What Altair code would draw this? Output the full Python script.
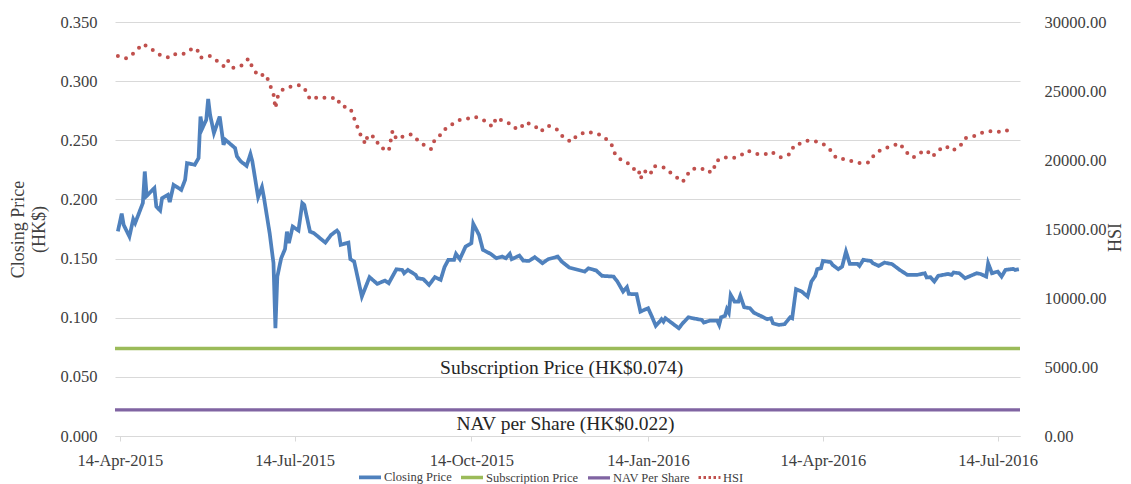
import altair as alt
import pandas as pd

FONT = "Liberation Serif"

close_dates = [
    "2015-04-13","2015-04-15","2015-04-16","2015-04-19","2015-04-21","2015-04-22","2015-04-26","2015-04-27","2015-04-28","2015-05-02",
    "2015-05-03","2015-05-05","2015-05-06","2015-05-09","2015-05-10","2015-05-12","2015-05-16","2015-05-18","2015-05-19","2015-05-23",
    "2015-05-25","2015-05-26","2015-05-27","2015-05-29","2015-05-30","2015-05-31","2015-06-02","2015-06-05","2015-06-07","2015-06-08",
    "2015-06-11","2015-06-13","2015-06-14","2015-06-16","2015-06-19","2015-06-21","2015-06-22","2015-06-25","2015-06-27","2015-06-28",
    "2015-07-01","2015-07-03","2015-07-04","2015-07-05","2015-07-07","2015-07-09","2015-07-10","2015-07-11","2015-07-13","2015-07-16",
    "2015-07-18","2015-07-19","2015-07-22","2015-07-24","2015-07-30","2015-08-02","2015-08-05","2015-08-06","2015-08-07","2015-08-11",
    "2015-08-12","2015-08-14","2015-08-18","2015-08-22","2015-08-26","2015-08-30","2015-09-01","2015-09-05","2015-09-08","2015-09-09",
    "2015-09-11","2015-09-15","2015-09-16","2015-09-19","2015-09-22","2015-09-25","2015-09-28","2015-09-30","2015-10-02","2015-10-05",
    "2015-10-06","2015-10-08","2015-10-11","2015-10-14","2015-10-15","2015-10-18","2015-10-20","2015-10-24","2015-10-27","2015-10-30",
    "2015-11-01","2015-11-03","2015-11-04","2015-11-08","2015-11-10","2015-11-13","2015-11-16","2015-11-20","2015-11-23","2015-11-28",
    "2015-11-30","2015-12-04","2015-12-12","2015-12-14","2015-12-18","2015-12-21","2015-12-27","2015-12-29","2016-01-01","2016-01-03",
    "2016-01-04","2016-01-08","2016-01-10","2016-01-14","2016-01-16","2016-01-18","2016-01-20","2016-01-21","2016-01-22","2016-01-23",
    "2016-01-30","2016-02-01","2016-02-04","2016-02-06","2016-02-11","2016-02-12","2016-02-15","2016-02-19","2016-02-20","2016-02-21",
    "2016-02-23","2016-02-24","2016-02-25","2016-02-26","2016-02-28","2016-03-01","2016-03-02","2016-03-04","2016-03-07","2016-03-09",
    "2016-03-14","2016-03-16","2016-03-18","2016-03-19","2016-03-22","2016-03-25","2016-03-28","2016-03-29","2016-03-31","2016-04-03",
    "2016-04-06","2016-04-08","2016-04-10","2016-04-11","2016-04-13","2016-04-14","2016-04-18","2016-04-19","2016-04-22","2016-04-24",
    "2016-04-26","2016-04-28","2016-05-02","2016-05-03","2016-05-05","2016-05-09","2016-05-10","2016-05-13","2016-05-16","2016-05-20",
    "2016-05-24","2016-05-28","2016-06-02","2016-06-06","2016-06-07","2016-06-09","2016-06-11","2016-06-13","2016-06-18","2016-06-20",
    "2016-06-21","2016-06-24","2016-06-27","2016-07-01","2016-07-03","2016-07-05","2016-07-08","2016-07-09","2016-07-11","2016-07-14",
    "2016-07-16","2016-07-18","2016-07-22","2016-07-23","2016-07-25",
]
close_values = [
    0.173,0.188,0.1785,0.1686,0.1833,0.180,0.197,0.2236,0.203,0.2096,
    0.194,0.1906,0.2011,0.2039,0.1977,0.2123,0.2081,0.2166,0.2307,0.2293,
    0.2349,0.2701,0.2603,0.2673,0.2849,0.2716,0.2561,0.2701,0.2462,0.2504,
    0.2462,0.2434,0.2363,0.2321,0.2284,0.2383,0.2321,0.2019,0.2104,0.2019,
    0.1715,0.1461,0.0911,0.1348,0.1503,0.158,0.1728,0.163,0.1771,0.1737,
    0.1969,0.1954,0.1728,0.1715,0.1635,0.170,0.1737,0.1715,0.1616,0.1635,
    0.1495,0.1475,0.1179,0.1343,0.1286,0.1314,0.1292,0.141,0.1404,0.1376,
    0.1404,0.1362,0.1334,0.1326,0.1277,0.1343,0.132,0.1427,0.1489,0.1489,
    0.154,0.1495,0.1602,0.163,0.1794,0.170,0.1574,0.154,0.1503,0.1517,
    0.1503,0.154,0.1495,0.1525,0.1483,0.148,0.1512,0.1461,0.1495,0.1517,
    0.1475,0.1424,0.139,0.1418,0.1399,0.1354,0.1348,0.1306,0.1221,0.1258,
    0.1201,0.1199,0.1052,0.108,0.1009,0.0931,0.0967,0.0987,0.0967,0.0996,
    0.0911,0.0953,0.1004,0.0996,0.0981,0.0959,0.0975,0.0975,0.0939,0.1004,
    0.1015,0.1072,0.1043,0.1193,0.1136,0.1136,0.1184,0.1089,0.108,0.1043,
    0.1004,0.0987,0.0996,0.0953,0.0939,0.0945,0.1004,0.0996,0.1241,0.1221,
    0.1179,0.1306,0.1354,0.141,0.1419,0.148,0.147,0.1447,0.141,0.1432,
    0.1559,0.1455,0.1455,0.1438,0.1489,0.148,0.1461,0.1438,0.1466,0.1453,
    0.1404,0.1362,0.1362,0.1376,0.134,0.1343,0.1306,0.1354,0.137,0.1362,
    0.1382,0.1376,0.1334,0.1362,0.1376,0.137,0.1348,0.1461,0.1376,0.139,
    0.1348,0.1404,0.1413,0.1404,0.141,
]

hsi_dates = [
    "2015-04-13","2015-04-17","2015-04-19","2015-04-22","2015-04-26","2015-04-30","2015-05-04","2015-05-06","2015-05-10","2015-05-13",
    "2015-05-17","2015-05-20","2015-05-24","2015-05-26","2015-05-31","2015-06-03","2015-06-07","2015-06-09","2015-06-12","2015-06-16",
    "2015-06-20","2015-06-22","2015-06-25","2015-06-29","2015-07-01","2015-07-03","2015-07-04","2015-07-05","2015-07-08","2015-07-12",
    "2015-07-17","2015-07-20","2015-07-22","2015-07-27","2015-07-31","2015-08-05","2015-08-07","2015-08-12","2015-08-14","2015-08-16",
    "2015-08-18","2015-08-20","2015-08-21","2015-08-25","2015-08-27","2015-09-01","2015-09-02","2015-09-03","2015-09-05","2015-09-09",
    "2015-09-13","2015-09-16","2015-09-20","2015-09-23","2015-09-25","2015-09-29","2015-10-01","2015-10-05","2015-10-08","2015-10-12",
    "2015-10-16","2015-10-21","2015-10-25","2015-10-27","2015-11-01","2015-11-03","2015-11-05","2015-11-08","2015-11-11","2015-11-16",
    "2015-11-19","2015-11-23","2015-11-28","2015-12-01","2015-12-05","2015-12-08","2015-12-13","2015-12-18","2015-12-22","2015-12-26",
    "2015-12-28","2015-12-31","2016-01-03","2016-01-07","2016-01-09","2016-01-10","2016-01-12","2016-01-15","2016-01-17","2016-01-22",
    "2016-01-24","2016-01-28","2016-02-01","2016-02-04","2016-02-06","2016-02-11","2016-02-13","2016-02-17","2016-02-18","2016-02-22",
    "2016-02-27","2016-03-02","2016-03-06","2016-03-11","2016-03-15","2016-03-18","2016-03-23","2016-03-28","2016-03-30","2016-04-03",
    "2016-04-06","2016-04-10","2016-04-14","2016-04-18","2016-04-21","2016-04-26","2016-04-30","2016-05-04","2016-05-08","2016-05-11",
    "2016-05-15","2016-05-20","2016-05-24","2016-05-27","2016-05-31","2016-06-03","2016-06-07","2016-06-10","2016-06-13","2016-06-17",
    "2016-06-20","2016-06-24","2016-06-27","2016-07-01","2016-07-06","2016-07-11","2016-07-14","2016-07-18","2016-07-22",
]
hsi_values = [
    27535,27367,27440,27850,28404,28093,27680,27535,27413,27680,
    27680,27970,28093,27413,27535,27245,26810,27245,26690,26810,
    27340,26714,26086,26209,25506,24781,23745,24542,25143,25310,
    25433,25021,24397,24586,24470,24513,23934,23745,23021,22296,
    21572,21158,21810,21644,20963,20651,21398,22122,21520,21738,
    21861,21448,21013,20796,21500,21934,22368,22658,22898,22995,
    23137,22847,22412,23064,22702,22658,22368,22223,22731,22485,
    22050,22485,22173,21615,21325,21789,22050,21934,21687,21108,
    20361,19999,19832,19296,19347,18622,19224,18912,19564,19470,
    19253,18840,18405,19057,19369,19398,19130,19152,19876,20195,
    20122,20311,20673,20434,20412,20601,20195,20434,21086,21209,
    21398,21354,21180,20702,20122,20050,19876,19760,19832,20434,
    20796,21013,21209,20601,20166,20485,20702,20238,20702,21013,
    20673,20919,21572,21687,21977,22100,22050,22050,22463,
]

period_dates = ["2015-04-11 12:00", "2016-07-25 14:00"]
subscription_price = [0.074, 0.074]
nav_per_share = [0.022, 0.022]

series_names = ["Closing Price", "Subscription Price", "NAV Per Share", "HSI"]
series_colors = ["#4F81BD", "#9BBB59", "#8064A2", "#C0504D"]
series_dash = [[1, 0], [1, 0], [1, 0], [2.5, 2.5]]
series_width = [3.75, 3, 3, 4]

left_ticks = [0.0, 0.05, 0.10, 0.15, 0.20, 0.25, 0.30, 0.35]
right_ticks = [0, 5000, 10000, 15000, 20000, 25000, 30000]
x_tick_dates = ["2015-04-14", "2015-07-14", "2015-10-14", "2016-01-14", "2016-04-14", "2016-07-14"]

ann_text = ["Subscription Price (HK$0.074)", "NAV per Share (HK$0.022)"]
ann_dates = ["2015-11-30", "2015-12-02"]
ann_values = [0.0575, 0.0102]


def to_dt(s):
    t = pd.Timestamp(s)
    return alt.DateTime(year=t.year, month=t.month, date=t.day, hours=t.hour, minutes=t.minute)


left_df = pd.concat([
    pd.DataFrame({"date": pd.to_datetime(close_dates), "value": close_values, "series": "Closing Price"}),
    pd.DataFrame({"date": pd.to_datetime(period_dates), "value": subscription_price, "series": "Subscription Price"}),
    pd.DataFrame({"date": pd.to_datetime(period_dates), "value": nav_per_share, "series": "NAV Per Share"}),
], ignore_index=True)
hsi_df = pd.DataFrame({"date": pd.to_datetime(hsi_dates), "hsi": hsi_values, "series": "HSI"})
ann_df = pd.DataFrame({"date": pd.to_datetime(ann_dates), "value": ann_values, "label": ann_text})

x_scale = alt.Scale(domain=[to_dt(period_dates[0]), to_dt(period_dates[1])])
x_axis = alt.Axis(
    values=[to_dt(d) for d in x_tick_dates], format="%d-%b-%Y", title=None, grid=False,
    domain=True, domainColor="#d9d9d9", ticks=True, tickSize=5, tickColor="#d9d9d9",
    labelFont=FONT, labelFontSize=16.5, labelPadding=11, labelColor="#404040",
    labelFlush=False, labelOverlap=False,
)
x_enc = alt.X("date:T", scale=x_scale, axis=x_axis)

legend = alt.Legend(
    title=None, orient="none", legendX=242, legendY=442, direction="horizontal",
    symbolType="stroke", symbolStrokeWidth=4, symbolSize=484, labelFont=FONT, labelFontSize=12.5,
    labelOffset=1, columnPadding=2, labelColor="#404040",
)
color_enc = alt.Color("series:N", scale=alt.Scale(domain=series_names, range=series_colors), legend=legend)

y_left = alt.Y(
    "value:Q", scale=alt.Scale(domain=[0, 0.35], nice=False),
    axis=alt.Axis(values=left_ticks, format=".3f", title=["Closing Price", "(HK$)"], grid=True,
                  gridColor="#d9d9d9", domain=False, ticks=False, labelPadding=18,
                  labelFont=FONT, labelFontSize=16.5, labelColor="#404040",
                  titleFont=FONT, titleFontSize=18, titleFontWeight="normal",
                  titleColor="#404040", titlePadding=11, titleLineHeight=21.5),
)

lines = alt.Chart(left_df).mark_line(strokeCap="butt").encode(
    x=x_enc,
    y=y_left,
    color=color_enc,
    strokeDash=alt.StrokeDash("series:N", scale=alt.Scale(domain=series_names, range=series_dash), legend=legend),
    strokeWidth=alt.StrokeWidth("series:N", scale=alt.Scale(domain=series_names, range=series_width), legend=None),
)

texts = alt.Chart(ann_df).mark_text(font=FONT, fontSize=19.5, color="#262626", align="center", baseline="middle").encode(
    x=alt.X("date:T"), y=alt.Y("value:Q"), text="label:N"
)

hsi = alt.Chart(hsi_df).mark_line(strokeDash=[0, 8.5], strokeCap="round", strokeWidth=4).encode(
    x=alt.X("date:T"),
    y=alt.Y("hsi:Q", scale=alt.Scale(domain=[0, 30000], nice=False),
            axis=alt.Axis(orient="right", values=right_ticks, format=".2f", title="HSI", titleAngle=270,
                          titleX=95, titleY=215, titleAlign="center", titleBaseline="middle",
                          grid=False, domain=False, ticks=False, labelPadding=24,
                          labelFont=FONT, labelFontSize=16.5, labelColor="#404040",
                          titleFont=FONT, titleFontSize=18, titleFontWeight="normal",
                          titleColor="#404040")),
    color=color_enc,
)

chart = alt.layer(alt.layer(lines, texts), hsi).resolve_scale(y="independent").properties(
    width=905, height=414,
    padding={"left": 107, "top": 14, "right": 103, "bottom": 52},
    autosize=alt.AutoSizeParams(type="none"),
).configure(font=FONT).configure_view(stroke=None)

chart.save("out.html", embed_options={"renderer": "svg", "actions": False})
